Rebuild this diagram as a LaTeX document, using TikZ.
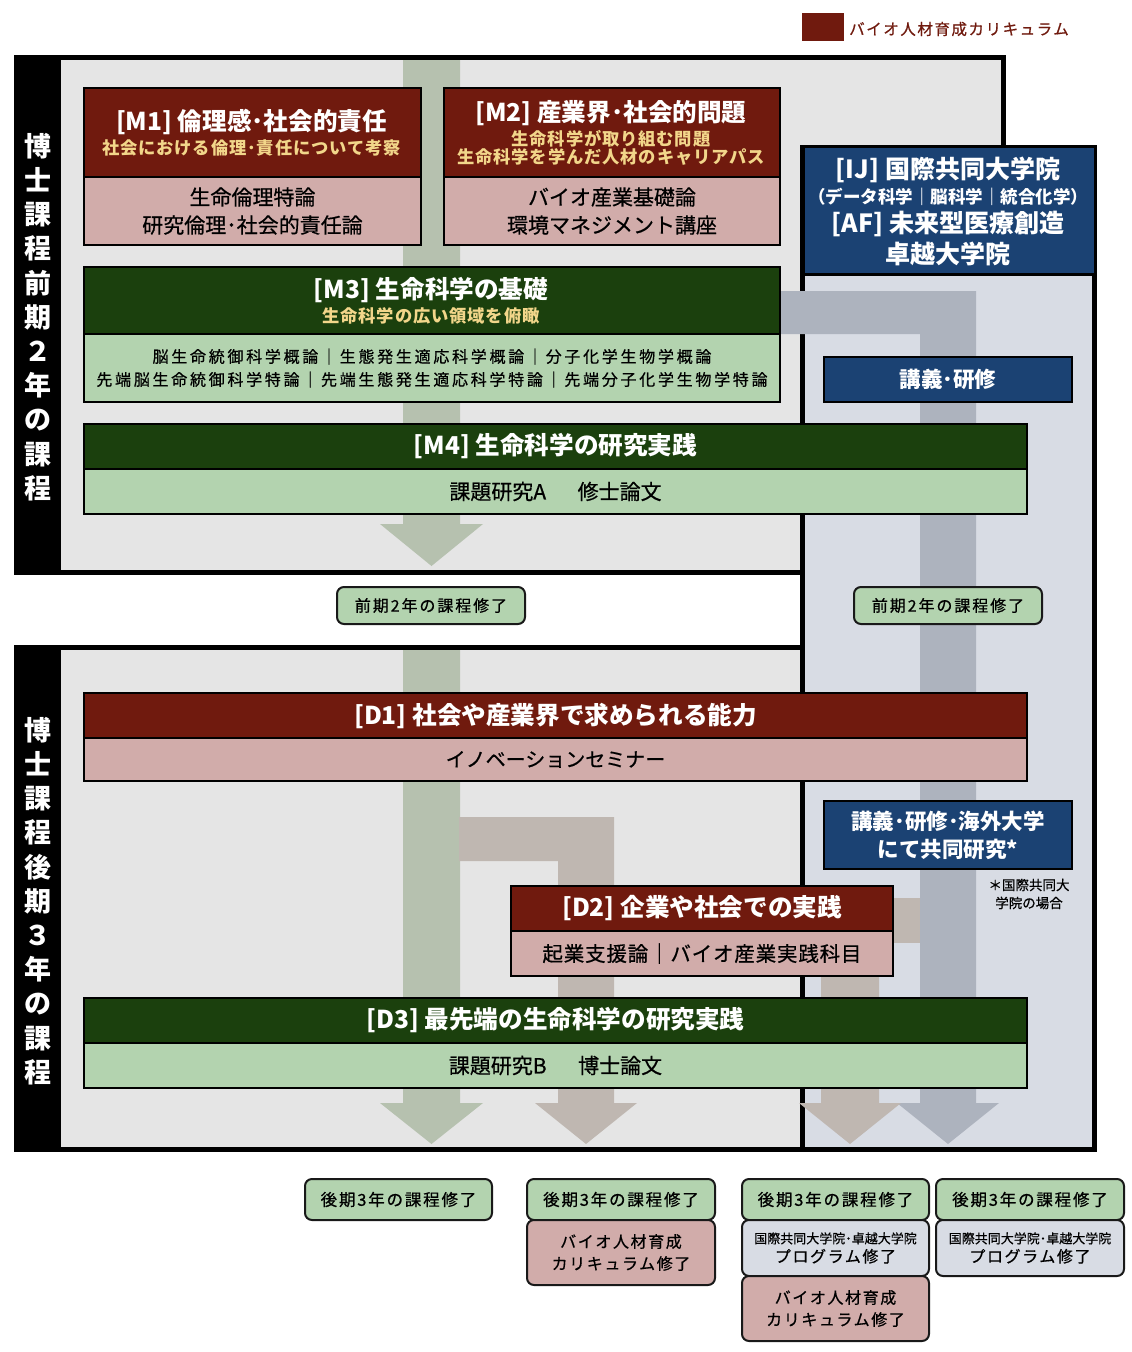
\documentclass[tikz,border=0pt]{standalone}
\usepackage{fontspec}
\setmainfont{Noto Sans CJK JP}
\definecolor{dred}{HTML}{701A0E}
\definecolor{pinkc}{HTML}{D1ACAA}
\definecolor{dgreen}{HTML}{1B400D}
\definecolor{lgreen}{HTML}{B3D3AF}
\definecolor{dblue}{HTML}{1B4273}
\definecolor{bluep}{HTML}{D8DCE4}
\definecolor{blueband}{HTML}{ADB3BE}
\definecolor{greenband}{HTML}{B6C1AF}
\definecolor{brownband}{HTML}{BFB7B1}
\definecolor{grayp}{HTML}{E5E5E5}
\definecolor{yel}{HTML}{F2D68A}
\newcommand\fsz[2]{\fontsize{#1}{#2}\selectfont}
\newcommand\lsp[1]{\addfontfeature{LetterSpace=#1}}
\newcommand\fb{\addfontfeature{FakeBold=0.6}}
\tikzset{
  boxbase/.style={draw=black, line width=2pt, inner sep=0pt, anchor=north west, align=center},
  hdrbox/.style={boxbase, text=white, font=\bfseries\fsz{24.6}{26}},
  bodybox/.style={boxbase, text=black, font=\fsz{21}{28}\fb},
  ttl/.style={inner sep=0pt, text=white, font=\bfseries\fsz{24.6}{26}},
  subt/.style={inner sep=0pt, text=yel, font=\bfseries\fsz{17.3}{18}\lsp{5}},
  bluebox/.style={boxbase, fill=dblue, text=white, font=\bfseries\fsz{21.5}{28}},
  vtext/.style={inner sep=0pt, text=white, align=center, font=\bfseries\fsz{27}{34.2}},
  endbox/.style={draw=black!90, line width=2pt, rounded corners=7pt, inner sep=0pt, anchor=north west, align=center, text=black, font=\fsz{16.5}{22}\lsp{11}\fb},
}
\begin{document}
\begin{tikzpicture}[x=1pt,y=-1pt]
\useasboundingbox (0,0) rectangle (1132,1352);
\fill[white] (0,0) rectangle (1132,1352);

% legend
\node[fill=dred, minimum width=42, minimum height=28, inner sep=0pt, anchor=north west] (legsq) at (802,13) {};
\node[anchor=west, inner sep=0pt, text=dred, font=\fsz{15.5}{16}\lsp{10}\fb] (legtx) at (849,29) {バイオ人材育成カリキュラム};

% panels
\fill[black] (14,55) rectangle (1006,575);
\fill[grayp] (61,60) rectangle (1001,570);
\fill[black] (14,645) rectangle (830,1152);
\fill[grayp] (61,650) rectangle (825,1147);
\draw[line width=5pt, fill=bluep] (802.5,147.5) rectangle (1094.5,1149.5);

\node[vtext] (vt1) at (38,317) {博\\士\\課\\程\\前\\期\\２\\年\\の\\課\\程};
\node[vtext] (vt2) at (38,901) {博\\士\\課\\程\\後\\期\\３\\年\\の\\課\\程};

% bands
\fill[greenband] (403,60) -- (460,60) -- (460,524) -- (483,524) -- (431.5,566) -- (380,524) -- (403,524) -- cycle;
\fill[greenband] (403,650) -- (460,650) -- (460,1103) -- (483,1103) -- (431.5,1144) -- (380,1103) -- (403,1103) -- cycle;
\fill[blueband] (779,291) -- (976,291) -- (976,1103) -- (999,1103) -- (948,1144) -- (897,1103) -- (920,1103) -- (920,334) -- (779,334) -- cycle;
\fill[brownband] (459,817) -- (614,817) -- (614,1103) -- (637,1103) -- (586,1144) -- (535,1103) -- (558,1103) -- (558,861) -- (459,861) -- cycle;
\fill[brownband] (880,898) rectangle (920,943);
\fill[brownband] (821,960) -- (879,960) -- (879,1103) -- (901,1103) -- (850,1144) -- (799,1103) -- (821,1103) -- cycle;

% M1
\node[hdrbox, fill=dred, minimum width=337, minimum height=89] (m1h) at (83,87) {};
\node[bodybox, fill=pinkc, minimum width=337, minimum height=68] (m1b) at (83,176) {生命倫理特論\\研究倫理･社会的責任論};
\node[ttl] (m1t) at (251.5,122) {[M1] 倫理感･社会的責任};
\node[subt] (m1s) at (251.5,148) {社会における倫理･責任について考察};
% M2
\node[hdrbox, fill=dred, minimum width=336, minimum height=89] (m2h) at (443,87) {};
\node[bodybox, fill=pinkc, minimum width=336, minimum height=68] (m2b) at (443,176) {バイオ産業基礎論\\環境マネジメント講座};
\node[ttl] (m2t) at (611,113) {[M2] 産業界･社会的問題};
\node[subt] (m2s1) at (611,139) {生命科学が取り組む問題};
\node[subt] (m2s2) at (611,157) {生命科学を学んだ人材のキャリアパス};
% M3
\node[hdrbox, fill=dgreen, minimum width=696, minimum height=67] (m3h) at (83,266) {};
\node[bodybox, fill=lgreen, minimum width=696, minimum height=68, font=\fsz{16}{23}\lsp{17}\fb] (m3b) at (83,333) {脳生命統御科学概論｜生態発生適応科学概論｜分子化学生物学概論\\先端脳生命統御科学特論｜先端生態発生適応科学特論｜先端分子化学生物学特論};
\node[ttl] (m3t) at (431,290) {[M3] 生命科学の基礎};
\node[subt] (m3s) at (431,316) {生命科学の広い領域を俯瞰};
% M4
\node[hdrbox, fill=dgreen, minimum width=943, minimum height=45] (m4h) at (83,423) {[M4] 生命科学の研究実践};
\node[bodybox, fill=lgreen, minimum width=943, minimum height=45] (m4b) at (83,468) {課題研究A\hspace{1.5em}修士論文};

% IJ header
\node[boxbase, line width=3pt, fill=dblue, minimum width=292, minimum height=128] (ijh) at (802,145) {};
\node[ttl, font=\bfseries\fsz{25}{26}] (ij1) at (948,170) {[IJ] 国際共同大学院};
\node[ttl, font=\bfseries\fsz{17.5}{18}] (ij2) at (948,197) {（データ科学｜脳科学｜統合化学）};
\node[ttl, font=\bfseries\fsz{25}{26}] (ij3) at (948,224) {[AF] 未来型医療創造};
\node[ttl, font=\bfseries\fsz{25}{26}] (ij4) at (948,254) {卓越大学院};
\node[bluebox, minimum width=248, minimum height=45] (lec1) at (823,356) {講義･研修};

% completion 1
\node[endbox, fill=lgreen, minimum width=188, minimum height=37, font=\fsz{16}{22}\lsp{12}\fb] (c1a) at (336,586) {前期2年の課程修了};
\node[endbox, fill=lgreen, minimum width=188, minimum height=37, font=\fsz{16}{22}\lsp{12}\fb] (c1b) at (853,586) {前期2年の課程修了};

% D1
\node[hdrbox, fill=dred, minimum width=943, minimum height=45] (d1h) at (83,692) {[D1] 社会や産業界で求められる能力};
\node[bodybox, fill=pinkc, minimum width=943, minimum height=43, font=\fsz{20}{28}\fb] (d1b) at (83,737) {イノベーションセミナー};
% lecture 2
\node[bluebox, minimum width=248, minimum height=68, font=\bfseries\fsz{21.5}{28}] (lec2) at (823,800) {講義･研修･海外大学\\にて共同研究*};
\node[inner sep=0pt, align=center, font=\fsz{13.5}{18}\fb] (note) at (1029,894) {＊国際共同大\\学院の場合};
% D2
\node[hdrbox, fill=dred, minimum width=382, minimum height=45] (d2h) at (510,885) {[D2] 企業や社会での実践};
\node[bodybox, fill=pinkc, minimum width=382, minimum height=45, font=\fsz{20.5}{28}\lsp{4}\fb] (d2b) at (510,930) {起業支援論｜バイオ産業実践科目};
% D3
\node[hdrbox, fill=dgreen, minimum width=943, minimum height=45] (d3h) at (83,997) {[D3] 最先端の生命科学の研究実践};
\node[bodybox, fill=lgreen, minimum width=943, minimum height=45] (d3b) at (83,1042) {課題研究B\hspace{1.5em}博士論文};

% bottom completion boxes
\node[endbox, fill=lgreen, minimum width=187, minimum height=41] (e1) at (304,1178) {後期3年の課程修了};
\node[endbox, fill=lgreen, minimum width=188, minimum height=41] (e2) at (526,1178) {後期3年の課程修了};
\node[endbox, fill=pinkc, minimum width=188, minimum height=65, font=\fsz{16}{22}\lsp{10}\fb] (e2b) at (526,1219) {バイオ人材育成\\カリキュラム修了};
\node[endbox, fill=lgreen, minimum width=187, minimum height=41] (e3) at (741,1178) {後期3年の課程修了};
\node[endbox, fill=bluep, minimum width=187, minimum height=56, font=\fsz{16}{19}\lsp{10}\fb] (e3b) at (741,1219) {{\fsz{13}{14}\lsp{0}\fb 国際共同大学院･卓越大学院}\\プログラム修了};
\node[endbox, fill=pinkc, minimum width=187, minimum height=65, font=\fsz{16}{22}\lsp{10}\fb] (e3c) at (741,1275) {バイオ人材育成\\カリキュラム修了};
\node[endbox, fill=lgreen, minimum width=188, minimum height=41] (e4) at (935,1178) {後期3年の課程修了};
\node[endbox, fill=bluep, minimum width=188, minimum height=56, font=\fsz{16}{19}\lsp{10}\fb] (e4b) at (935,1219) {{\fsz{13}{14}\lsp{0}\fb 国際共同大学院･卓越大学院}\\プログラム修了};
\end{tikzpicture}
\end{document}
